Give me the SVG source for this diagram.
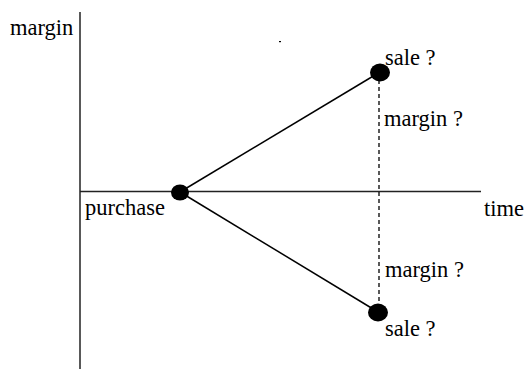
<svg xmlns="http://www.w3.org/2000/svg" width="528" height="369" viewBox="0 0 528 369">
<style>
.t{font-family:'Liberation Serif','Times New Roman',Times,'DejaVu Serif',serif;font-size:22.5px;fill:#000}
.ln{stroke:#000;stroke-width:1.5;fill:none}
.ax{stroke:#222;stroke-width:1.5;fill:none}
.dash{stroke:#000;stroke-width:1.3;stroke-dasharray:4 3;fill:none}
.dot{fill:#000}
</style>
<rect width="528" height="369" fill="#fff"/>
<g id="axes">
<line class="ax" x1="80" y1="12" x2="80" y2="369"/>
<line class="ax" x1="80" y1="191.5" x2="481" y2="191.5"/>
<text class="t" font-family="Liberation Serif" x="10" y="35">margin</text>
<text class="t" font-family="Liberation Serif" x="484" y="216">time</text>
</g>
<g id="connectors">
<line class="ln" x1="180" y1="192" x2="380" y2="72"/>
<line class="ln" x1="180" y1="192" x2="378" y2="312"/>
<line class="dash" x1="379" y1="80" x2="379" y2="304"/>
</g>
<g id="purchase">
<ellipse class="dot" cx="180" cy="192.5" rx="9" ry="8"/>
<text class="t" font-family="Liberation Serif" x="85" y="215">purchase</text>
</g>
<g id="sale-up">
<ellipse class="dot" cx="380" cy="72.5" rx="10" ry="9"/>
<text class="t" font-family="Liberation Serif" x="385" y="65">sale ?</text>
</g>
<g id="sale-down">
<ellipse class="dot" cx="378" cy="312.5" rx="10" ry="9"/>
<text class="t" font-family="Liberation Serif" x="385" y="336">sale ?</text>
</g>
<g id="margin-labels">
<text class="t" font-family="Liberation Serif" x="384" y="126">margin ?</text>
<text class="t" font-family="Liberation Serif" x="385" y="277">margin ?</text>
</g>
<rect x="279" y="41" width="2" height="1.2" fill="#000"/>
</svg>
